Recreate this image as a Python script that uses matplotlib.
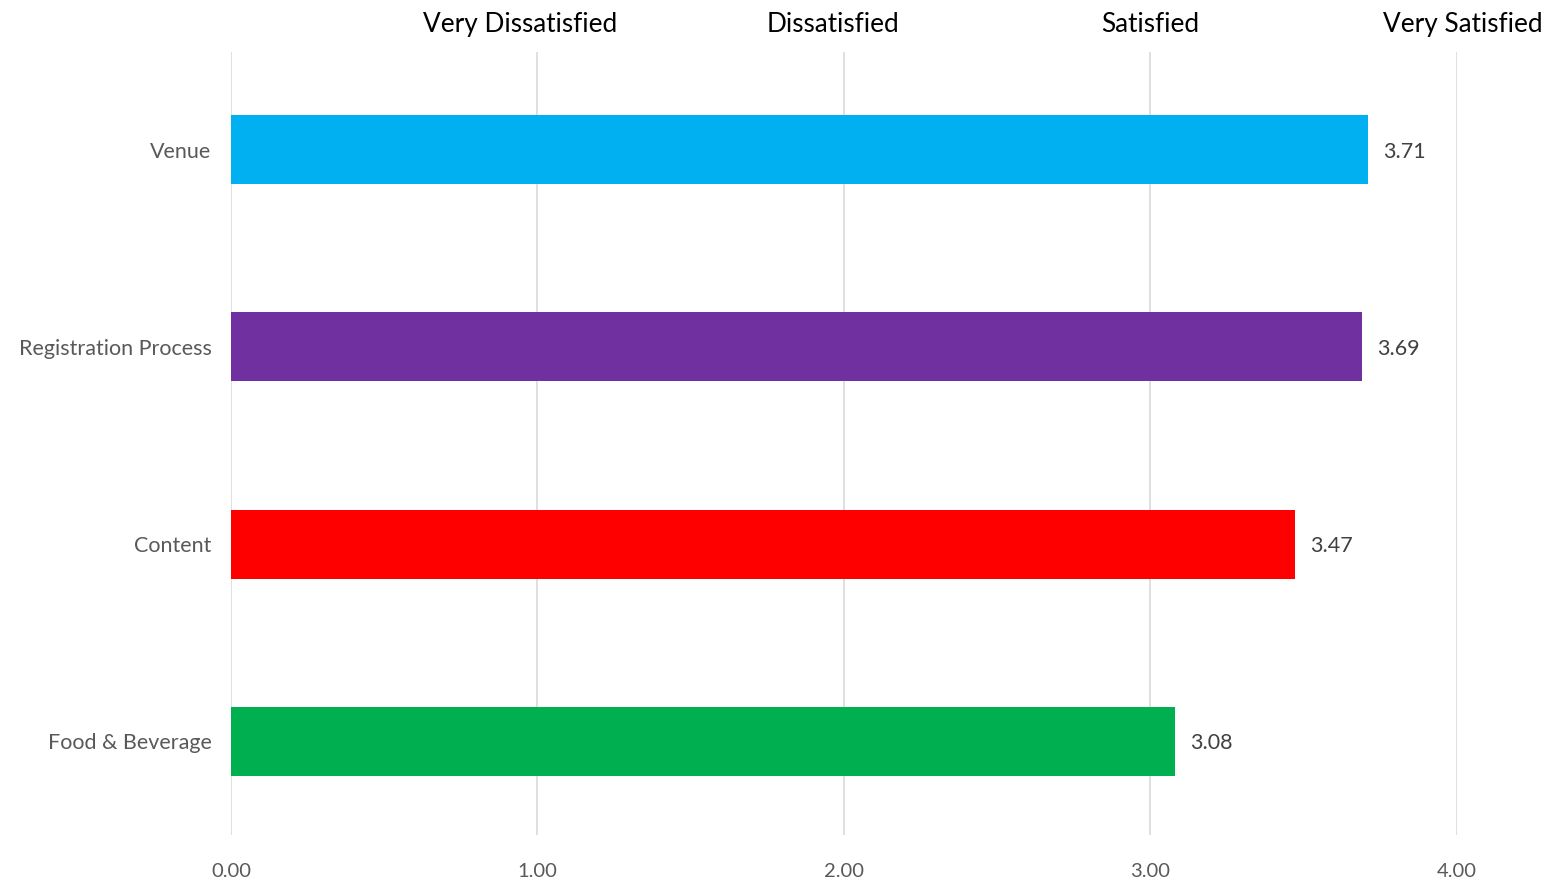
import matplotlib
matplotlib.use("Agg")
import matplotlib.pyplot as plt

plt.rcParams['font.family'] = ['Lato', 'DejaVu Sans']

categories = ["Food & Beverage", "Content", "Registration Process", "Venue"]
scores = [3.08, 3.47, 3.69, 3.71]
colors = ["#00B050", "#FF0000", "#7030A0", "#00B0F0"]
x_ticks = [0, 1, 2, 3, 4]
scale_labels = ["Very Dissatisfied", "Dissatisfied", "Satisfied", "Very Satisfied"]
scale_pos = [0.943, 1.964, 3.0, 4.02]

fig = plt.figure(figsize=(15.49, 8.89), dpi=100)
ax = fig.add_axes([0.1491, 0.0607, 0.7915, 0.8808])

ypos = range(len(categories))
ax.barh(ypos, scores, height=0.35, color=colors, zorder=3)
for y, v in zip(ypos, scores):
    ax.text(v + 0.05, y - 0.01, f"{v:.2f}", va="center", ha="left",
            fontsize=15.5, color="#404040")

ax.set_xlim(0, 4)
ax.set_ylim(-0.475, 3.495)
ax.set_xticks(x_ticks)
ax.set_xticklabels([f"{t:.2f}" for t in x_ticks], fontsize=14.5, color="#595959")
ax.set_yticks(list(ypos))
ax.set_yticklabels(categories, fontsize=15.5, color="#595959")
ax.tick_params(axis="y", length=0, pad=14)
ax.tick_params(axis="x", length=0, pad=20)
ax.grid(axis="x", color="#D9D9D9", linewidth=1.2, zorder=0)
for s in ax.spines.values():
    s.set_visible(False)

for lab, p in zip(scale_labels, scale_pos):
    ax.text(p, 1.0 + 28 / 783, lab, transform=ax.get_xaxis_transform(),
            ha="center", va="center", fontsize=18.8, color="#000000")

fig.savefig("out.png", dpi=100)
